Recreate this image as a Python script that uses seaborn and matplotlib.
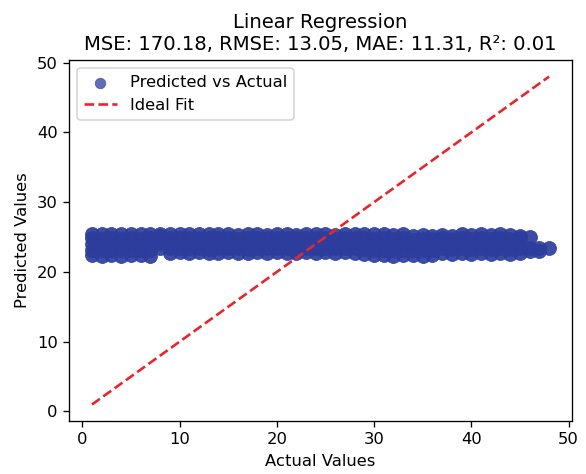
import pandas as pd
import seaborn as sns
import matplotlib.pyplot as plt

# predicted values, one row per actual value 1..48
pred_rows = [
    [22.4, 23.2, 24.0, 24.8, 25.4],
    [22.3, 23.1, 23.9, 24.7, 25.5],
    [22.4, 23.2, 24.0, 24.8, 25.5],
    [22.3, 23.1, 23.9, 24.7, 25.4],
    [22.4, 23.2, 24.0, 24.8, 25.5],
    [22.4, 23.2, 23.9, 24.7, 25.4],
    [22.3, 23.1, 24.0, 24.8, 25.5],
    [23.5, 24.1, 24.6, 25.1, 25.5],
    [22.7, 23.4, 24.1, 24.8, 25.4],
    [22.8, 23.5, 24.2, 24.9, 25.5],
    [22.7, 23.4, 24.0, 24.8, 25.4],
    [22.8, 23.5, 24.2, 24.9, 25.5],
    [22.7, 23.3, 24.1, 24.8, 25.5],
    [22.7, 23.4, 24.1, 24.9, 25.4],
    [22.8, 23.5, 24.2, 24.9, 25.5],
    [22.7, 23.4, 24.0, 24.7, 25.3],
    [22.7, 23.3, 24.1, 24.9, 25.5],
    [22.8, 23.5, 24.2, 24.9, 25.4],
    [22.7, 23.4, 24.1, 24.8, 25.3],
    [22.8, 23.5, 24.2, 24.9, 25.5],
    [22.7, 23.4, 24.0, 24.8, 25.4],
    [22.7, 23.3, 24.1, 24.8, 25.3],
    [22.8, 23.5, 24.2, 24.9, 25.4],
    [22.7, 23.4, 24.1, 24.8, 25.5],
    [22.8, 23.5, 24.2, 24.9, 25.4],
    [22.7, 23.4, 24.0, 24.7, 25.3],
    [22.8, 23.5, 24.2, 24.9, 25.5],
    [22.7, 23.4, 24.1, 24.8, 25.4],
    [22.6, 23.3, 24.0, 24.8, 25.5],
    [22.4, 23.2, 23.9, 24.7, 25.4],
    [22.4, 23.2, 24.0, 24.8, 25.5],
    [22.3, 23.1, 23.9, 24.7, 25.3],
    [22.4, 23.2, 24.0, 24.8, 25.4],
    [22.4, 23.2, 23.9, 24.6, 25.2],
    [22.3, 23.1, 23.9, 24.7, 25.3],
    [22.4, 23.2, 24.0, 24.7, 25.2],
    [22.7, 23.4, 24.1, 24.8, 25.3],
    [22.6, 23.3, 24.0, 24.7, 25.2],
    [22.7, 23.4, 24.1, 24.8, 25.4],
    [22.6, 23.3, 24.0, 24.7, 25.3],
    [22.7, 23.4, 24.1, 24.8, 25.4],
    [22.6, 23.3, 24.0, 24.7, 25.3],
    [22.7, 23.4, 24.1, 24.8, 25.4],
    [22.6, 23.3, 24.0, 24.7, 25.3],
    [22.7, 23.4, 24.1, 24.8, 25.2],
    [23.0, 23.5, 25.0],
    [23.0, 23.4],
    [23.4],
]
actual_values = list(range(1, 49))
title_text = 'Linear Regression\nMSE: 170.18, RMSE: 13.05, MAE: 11.31, R²: 0.01'

actual = []
predicted = []
for a, row in zip(actual_values, pred_rows):
    for p in row:
        actual.append(a)
        predicted.append(p)
df = pd.DataFrame({'Actual': actual, 'Predicted': predicted})

fig, ax = plt.subplots(figsize=(586 / 118, 474 / 118), dpi=118)
fig.subplots_adjust(left=0.118, right=0.976, top=0.873, bottom=0.112)

sns.scatterplot(data=df, x='Actual', y='Predicted', ax=ax, color='#2c3d9e',
                alpha=0.92, s=72, edgecolor='#2c3d9e', linewidth=0.5,
                label='Predicted vs Actual')
lo, hi = min(actual), max(actual)
sns.lineplot(x=[lo, hi], y=[lo, hi], ax=ax, color='#e8252a', linestyle='--',
             linewidth=1.6, label='Ideal Fit')

ax.set_title(title_text)
ax.set_xlabel('Actual Values')
ax.set_ylabel('Predicted Values')
leg = ax.legend(loc='upper left', markerscale=0.75)
leg.legend_handles[0].set_alpha(0.75)

plt.savefig('out.png')
